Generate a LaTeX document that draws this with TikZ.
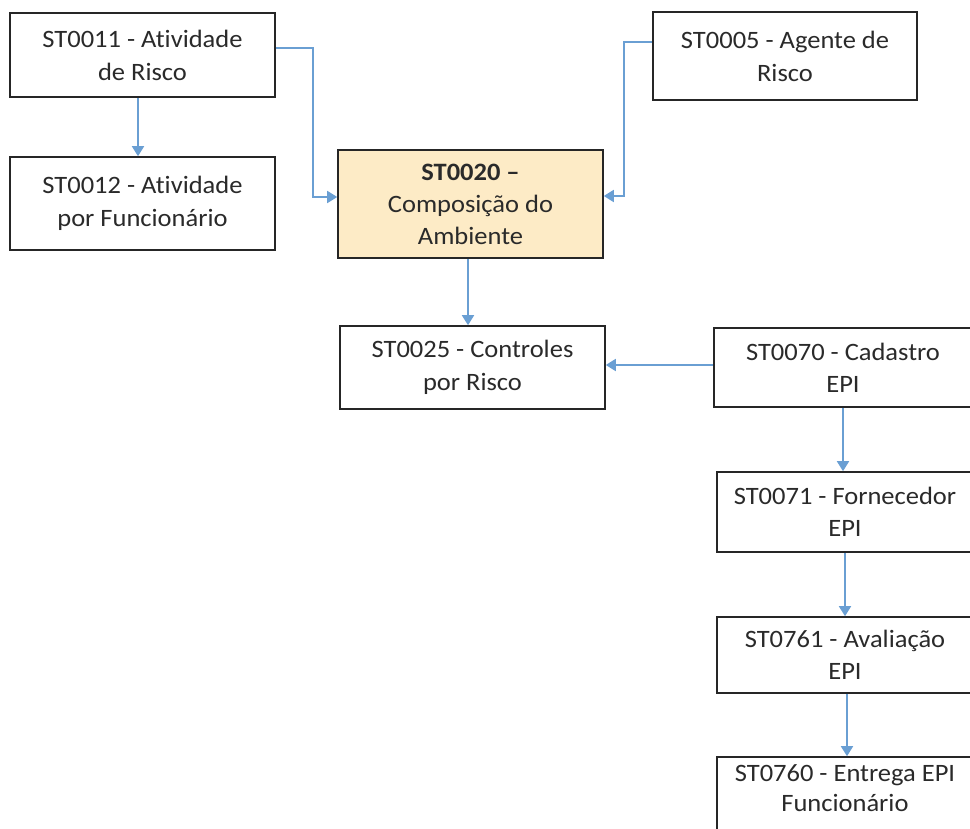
\documentclass[tikz,border=0pt]{standalone}
\usepackage{fontspec}
\setmainfont{Carlito}[FakeStretch=1.06, RawFeature=-liga]
\usetikzlibrary{arrows.meta}
\definecolor{arrowblue}{HTML}{6A9FD3}
\definecolor{boxline}{HTML}{262626}
\definecolor{txt}{HTML}{2A2A2A}
\definecolor{hilite}{HTML}{FDEBC6}
\tikzset{
  stbox/.style={draw=boxline, line width=1.6pt, rectangle, align=center, text=txt,
    inner sep=0pt, font=\fontsize{25}{33}\selectfont},
  flow/.style={draw=arrowblue, line width=1.7pt, -{Triangle[width=12pt,length=10pt]}}
}
\begin{document}
\begin{tikzpicture}[x=1pt,y=-1pt]
\useasboundingbox[fill=white] (0,0) rectangle (970,829);
\node[stbox, minimum width=265, minimum height=84] (b11) at (142.5,55) {ST0011 - Atividade\\de Risco};
\node[stbox, minimum width=265, minimum height=93] (b12) at (142.5,203.5) {ST0012 - Atividade\\por Funcionário};
\node[stbox, fill=hilite, minimum width=265, minimum height=108, font=\fontsize{25}{32}\selectfont] (b20) at (470.5,204) {\textbf{ST0020 –}\\Composição do\\Ambiente};
\node[stbox, minimum width=264, minimum height=88] (b05) at (785,56) {ST0005 - Agente de\\Risco};
\node[stbox, minimum width=265, minimum height=83] (b25) at (472.5,367.5) {ST0025 - Controles\\por Risco};
\node[stbox, minimum width=258, minimum height=79, font=\fontsize{25}{32}\selectfont] (b70) at (843,367.5) {ST0070 - Cadastro\\EPI};
\node[stbox, minimum width=256, minimum height=80, font=\fontsize{25}{32}\selectfont] (b71) at (845,512) {ST0071 - Fornecedor\\EPI};
\node[stbox, minimum width=256, minimum height=76, font=\fontsize{25}{32}\selectfont] (b61) at (845,655) {ST0761 - Avaliação\\EPI};
\node[stbox, minimum width=256, minimum height=102, font=\fontsize{25}{30}\selectfont] (b60) at (845,808) {ST0760 - Entrega EPI\\Funcionário\\\strut};

\draw[flow] ([xshift=-4.5pt]b11.south) -- ([xshift=-4.5pt]b12.north);
\draw[flow] ([yshift=7pt]b11.east) -- ++(37,0) |- ([yshift=7pt]b20.west);
\draw[flow] ([yshift=14pt]b05.west) -- ++(-28,0) |- ([yshift=8pt]b20.east);
\draw[flow] ([xshift=-2.5pt]b20.south) -- ([xshift=-2.5pt]b20.south |- b25.north);
\draw[flow] ([yshift=2.5pt]b70.west) -- ([yshift=2.5pt]b70.west -| b25.east);
\draw[flow] (b70.south) -- (b70.south |- b71.north);
\draw[flow] (b71.south) -- (b71.south |- b61.north);
\draw[flow] ([xshift=2pt]b61.south) -- ([xshift=2pt]b61.south |- b60.north);
\end{tikzpicture}
\end{document}
